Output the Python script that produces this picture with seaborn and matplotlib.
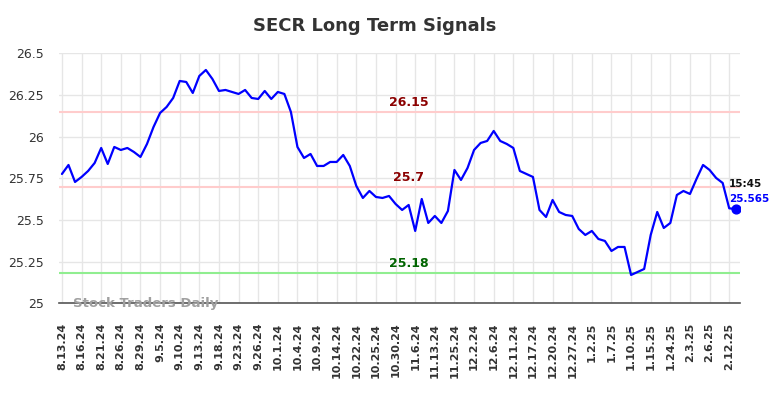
import numpy as np
import pandas as pd
import matplotlib
matplotlib.use("Agg")
import matplotlib.pyplot as plt
import seaborn as sns

title = "SECR Long Term Signals"
tick_labels = ["8.13.24", "8.16.24", "8.21.24", "8.26.24", "8.29.24", "9.5.24", "9.10.24",
               "9.13.24", "9.18.24", "9.23.24", "9.26.24", "10.1.24", "10.4.24", "10.9.24",
               "10.14.24", "10.22.24", "10.25.24", "10.30.24", "11.6.24", "11.13.24",
               "11.25.24", "12.2.24", "12.6.24", "12.11.24", "12.17.24", "12.20.24",
               "12.27.24", "1.2.25", "1.7.25", "1.10.25", "1.15.25", "1.24.25", "2.3.25",
               "2.6.25", "2.12.25"]
prices = [25.776, 25.830, 25.728, 25.758, 25.794, 25.842, 25.932, 25.836, 25.938, 25.920,
          25.932, 25.908, 25.878, 25.956, 26.058, 26.142, 26.178, 26.232, 26.334, 26.328,
          26.262, 26.364, 26.400, 26.346, 26.274, 26.280, 26.268, 26.256, 26.280, 26.232,
          26.226, 26.274, 26.226, 26.268, 26.256, 26.148, 25.938, 25.872, 25.896, 25.824,
          25.824, 25.848, 25.848, 25.890, 25.824, 25.704, 25.632, 25.674, 25.638, 25.632,
          25.644, 25.596, 25.560, 25.590, 25.434, 25.626, 25.482, 25.524, 25.482, 25.554,
          25.800, 25.740, 25.812, 25.920, 25.962, 25.974, 26.034, 25.974, 25.956, 25.932,
          25.794, 25.776, 25.758, 25.560, 25.518, 25.620, 25.548, 25.530, 25.524, 25.446,
          25.410, 25.434, 25.386, 25.374, 25.314, 25.338, 25.338, 25.170, 25.188, 25.206,
          25.410, 25.548, 25.452, 25.482, 25.650, 25.674, 25.656, 25.746, 25.830, 25.800,
          25.752, 25.722, 25.570, 25.565]
resistance_high = 26.15
resistance_mid = 25.7
support = 25.18
last_time = "15:45"
last_price = 25.565
yticks = [25, 25.25, 25.5, 25.75, 26, 26.25, 26.5]
ytick_labels = ["25", "25.25", "25.5", "25.75", "26", "26.25", "26.5"]

df = pd.DataFrame({"idx": np.arange(len(prices)), "price": prices})

sns.set_style("white")
plt.rcParams['font.family'] = ['DejaVu Sans']

fig = plt.figure(figsize=(7.84, 3.98), dpi=100)
ax = fig.add_axes([59/784, 1 - 303.3/398, (740 - 59)/784, (303.3 - 53.3)/398])

# grid
tick_pos = np.arange(0, len(prices), 3)[:len(tick_labels)]
ax.set_xticks(tick_pos)
ax.set_yticks(yticks)
ax.grid(True, color="#e6e6e6", linewidth=1)
ax.set_axisbelow(True)

ax.axhline(resistance_high, color="#ffcccc", lw=1.5, zorder=1)
ax.axhline(resistance_mid, color="#ffcccc", lw=1.5, zorder=1)
ax.axhline(support, color="#90ee90", lw=1.5, zorder=1)

sns.lineplot(data=df, x="idx", y="price", ax=ax, color="#0000ff", lw=1.6, zorder=3)
ax.scatter([df["idx"].iloc[-1]], [last_price], s=40, color="#0000ff", zorder=4)

ax.set_xlim(-0.45, len(prices) - 1 + 0.65)
ax.set_ylim(25, 26.5)
ax.set_xticklabels(tick_labels, rotation=90, fontsize=8, fontweight="bold", color="#333333")
ax.set_yticklabels(ytick_labels, fontsize=9, color="#333333")
ax.tick_params(axis="x", length=0, pad=14)
ax.tick_params(axis="y", length=0, pad=11)
ax.set_xlabel("")
ax.set_ylabel("")
for s in ["top", "right", "left"]:
    ax.spines[s].set_visible(False)
ax.spines["bottom"].set_color("#555555")
ax.spines["bottom"].set_linewidth(1.2)

mid = 53
ax.text(mid, resistance_high + 0.018, f"{resistance_high:g}", color="#8b0000", fontsize=9,
        fontweight="bold", ha="center", va="bottom")
ax.text(mid, resistance_mid + 0.018, f"{resistance_mid:g}", color="#8b0000", fontsize=9,
        fontweight="bold", ha="center", va="bottom")
ax.text(mid, support + 0.018, f"{support:g}", color="#006400", fontsize=9,
        fontweight="bold", ha="center", va="bottom")

last_x = df["idx"].iloc[-1]
ax.annotate(last_time, (last_x, last_price), xytext=(-5, 18), textcoords="offset points",
            fontsize=7.5, fontweight="bold", color="#111111", ha="left", va="center",
            annotation_clip=False)
ax.annotate(f"{last_price:g}", (last_x, last_price), xytext=(-5, 7.5), textcoords="offset points",
            fontsize=7.5, fontweight="bold", color="#0000ff", ha="left", va="center",
            annotation_clip=False)

ax.text(0.02, 0.0, "Stock Traders Daily", transform=ax.transAxes, fontsize=9.5,
        fontweight="bold", color="#a0a0a0", ha="left", va="center")

fig.text(0.478, 1 - 26/398, title, fontsize=13, fontweight="bold", color="#333333",
         ha="center", va="center")

fig.savefig("out.png", dpi=100)
